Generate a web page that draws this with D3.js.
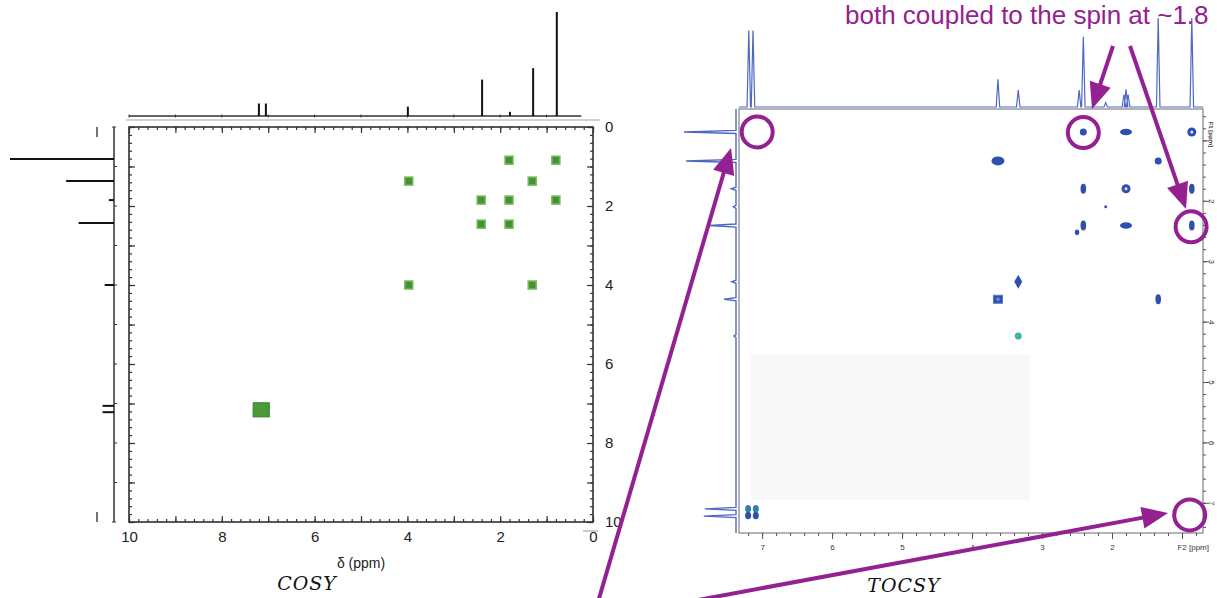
<!DOCTYPE html>
<html>
<head>
<meta charset="utf-8">
<script src="https://cdn.jsdelivr.net/npm/d3@7/dist/d3.min.js"></script>
<style>
  body { margin: 0; background: #fff; }
  svg { display: block; font-family: "Liberation Sans", Arial, sans-serif; }
</style>
</head>
<body>
<svg id="chart" width="1217" height="598"></svg>
<script>
// ---- COSY data ----
var cosyTopPpm = [7.20, 7.05, 3.99, 2.39, 1.79, 1.29, 0.78]
var cosyTopInt = [12, 12, 9, 35, 4, 46, 100]
var cosyLeftPpm = [7.22, 7.06, 4.00, 2.43, 1.85, 1.37, 0.81]
var cosyLeftInt = [11, 11, 9, 34, 5, 46, 100]
var cosyPeakX = [1.81, 0.80, 3.97, 1.31, 2.41, 1.81, 0.80, 2.41, 1.81, 3.97, 1.31]
var cosyPeakY = [0.84, 0.84, 1.37, 1.37, 1.85, 1.85, 1.85, 2.46, 2.46, 4.00, 4.00]
var cosyBigX = [7.15]
var cosyBigY = [7.16]
var cosyTickLabels = [10, 8, 6, 4, 2, 0]

// ---- TOCSY data ----
var tocsyTopPpm = [7.19, 7.13, 3.63, 3.34, 2.47, 2.41, 2.09, 1.83, 1.80, 1.77, 1.34, 0.86]
var tocsyTopInt = [86, 86, 31, 19, 19, 79, 5, 14, 20, 14, 100, 100]
var tocsyLeftPpm = [7.22, 7.10, 4.24, 3.63, 3.34, 2.41, 2.10, 1.80, 1.34, 0.86]
var tocsyLeftInt = [62, 60, 4, 23, 8, 52, 5, 9, 96, 100]
var tocsyF2 = [2.41, 1.80, 0.86, 3.63, 1.34, 2.41, 1.80, 0.86, 2.09, 2.41, 2.50, 1.80, 0.86, 3.34, 3.63, 1.34, 3.34, 7.20, 7.20, 7.09, 7.09]
var tocsyF1 = [0.86, 0.86, 0.86, 1.34, 1.34, 1.80, 1.80, 1.80, 2.10, 2.41, 2.52, 2.41, 2.41, 3.34, 3.63, 3.63, 4.24, 7.10, 7.21, 7.10, 7.21]
var tocsyKind = ["dot", "hbar", "ring", "oval", "dot", "vbar", "ring", "vbar", "tiny", "vbar", "small", "hbar", "vbar",
                 "diamond", "square", "vbar", "teal", "blob", "blob", "blob", "blob"]
var tocsyXLabels = [7, 6, 5, 4, 3, 2]
var tocsyYLabels = [2, 3, 4, 5, 6, 7]

// annotation circles (F2, F1 ppm)
var markF2 = [7.07, 2.41, 0.87, 0.89]
var markF1 = [0.86, 0.87, 2.43, 7.20]

var purple = "#942192"
var blue = "#3050b0"

var svg = d3.select("#chart")

// ================= COSY =================
var cx = d3.scaleLinear().domain([10, 0]).range([129, 593])
var cy = d3.scaleLinear().domain([0, 10]).range([127, 522])
var cInt = d3.scaleLinear().domain([0, 100]).range([0, 104])

var cosy = svg.append("g").attr("class", "cosy")

cosy.append("line")
  .attr("x1", 126).attr("x2", 600).attr("y1", 120).attr("y2", 120)
  .attr("stroke", "#c4c4c4").attr("stroke-width", 1.5)
cosy.append("line")
  .attr("x1", 583).attr("x2", 598).attr("y1", 531).attr("y2", 531)
  .attr("stroke", "#999")

// top projection
var topBase = 116
cosy.append("line")
  .attr("x1", cx(10)).attr("x2", cx(0.25)).attr("y1", topBase).attr("y2", topBase)
  .attr("stroke", "#333").attr("stroke-width", 1.5)
cosy.selectAll(".ttick").data(d3.range(10, 0, -1)).enter().append("line")
  .attr("x1", function (d) { return cx(d) }).attr("x2", function (d) { return cx(d) })
  .attr("y1", topBase - 1.5).attr("y2", topBase + 1.5)
  .attr("stroke", "#333")
cosy.selectAll(".tpeak").data(cosyTopPpm).enter().append("line")
  .attr("x1", function (d) { return cx(d) }).attr("x2", function (d) { return cx(d) })
  .attr("y1", topBase)
  .attr("y2", function (d, i) { return topBase - cInt(cosyTopInt[i]) })
  .attr("stroke", "#111").attr("stroke-width", 2)

// left projection
var leftBase = 114
cosy.append("line")
  .attr("x1", leftBase).attr("x2", leftBase).attr("y1", cy(0)).attr("y2", cy(10))
  .attr("stroke", "#333").attr("stroke-width", 1.5)
cosy.selectAll(".lcap").data([0, 10]).enter().append("line")
  .attr("x1", leftBase - 2).attr("x2", leftBase + 2)
  .attr("y1", function (d) { return cy(d) }).attr("y2", function (d) { return cy(d) })
  .attr("stroke", "#333")
cosy.selectAll(".ltick").data(d3.range(1, 10)).enter().append("line")
  .attr("x1", leftBase).attr("x2", leftBase + 3)
  .attr("y1", function (d) { return cy(d) }).attr("y2", function (d) { return cy(d) })
  .attr("stroke", "#333")
cosy.selectAll(".lpeak").data(cosyLeftPpm).enter().append("line")
  .attr("y1", function (d) { return cy(d) }).attr("y2", function (d) { return cy(d) })
  .attr("x1", leftBase)
  .attr("x2", function (d, i) { return leftBase - cInt(cosyLeftInt[i]) })
  .attr("stroke", "#111").attr("stroke-width", 2)
cosy.selectAll(".lend").data([cy(0), cy(10) - 10]).enter().append("line")
  .attr("x1", 97).attr("x2", 97)
  .attr("y1", function (d) { return d }).attr("y2", function (d) { return d + 10 })
  .attr("stroke", "#444").attr("stroke-width", 1.5)

// frame + axes
cosy.append("rect")
  .attr("x", cx(10)).attr("y", cy(0))
  .attr("width", cx(0) - cx(10)).attr("height", cy(10) - cy(0))
  .attr("fill", "#fff").attr("stroke", "#222").attr("stroke-width", 1.5)

var minorC = d3.range(0, 10.001, 0.2)
var majorC = d3.range(0, 11, 1)
function cosyAxis(axisFn, scale, size, values, labels) {
  return axisFn(scale).tickValues(values).tickSize(size)
    .tickFormat(labels ? function (d) { return labels.indexOf(d) >= 0 ? d : "" } : "")
}
var axes = [
  [d3.axisBottom, cx, "translate(0," + cy(10) + ")"],
  [d3.axisTop, cx, "translate(0," + cy(0) + ")"],
  [d3.axisLeft, cy, "translate(" + cx(10) + ",0)"],
  [d3.axisRight, cy, "translate(" + cx(0) + ",0)"]
]
axes.forEach(function (a, k) {
  var g1 = cosy.append("g").attr("transform", a[2])
    .call(cosyAxis(a[0], a[1], -3, minorC, null))
  var lab = (k === 0 || k === 3) ? cosyTickLabels : null
  var g2 = cosy.append("g").attr("transform", a[2])
    .call(cosyAxis(a[0], a[1], -6, majorC, lab).tickPadding(k === 3 ? 12 : 9))
  ;[g1, g2].forEach(function (g) {
    g.select(".domain").remove()
    g.selectAll("line").attr("stroke", "#333").attr("stroke-width", 1.2)
    g.selectAll("text").attr("font-size", 15).attr("fill", "#222")
      .attr("font-family", "Liberation Sans, Arial, sans-serif")
  })
  if (k === 3) g2.selectAll("text").attr("text-anchor", "start")
})

cosy.append("text")
  .attr("x", 361).attr("y", 568)
  .attr("text-anchor", "middle").attr("font-size", 14).attr("fill", "#222")
  .text("δ (ppm)")

// cross peaks
var sq = 8
cosy.selectAll(".cpk").data(cosyPeakX).enter().append("rect")
  .attr("x", function (d) { return cx(d) - sq / 2 })
  .attr("y", function (d, i) { return cy(cosyPeakY[i]) - sq / 2 })
  .attr("width", sq).attr("height", sq)
  .attr("fill", "#4a8f33").attr("stroke", "#6fbf5a").attr("stroke-width", 1.5)
cosy.selectAll(".cbig").data(cosyBigX).enter().append("rect")
  .attr("x", function (d) { return cx(d) - 8 })
  .attr("y", function (d, i) { return cy(cosyBigY[i]) - 7 })
  .attr("width", 16).attr("height", 14)
  .attr("fill", "#4a9a38").attr("stroke", "#3d8a2d").attr("stroke-width", 1.2)

cosy.append("text")
  .attr("x", 307).attr("y", 590)
  .attr("text-anchor", "middle").attr("font-size", 19)
  .attr("font-style", "italic").attr("font-family", "DejaVu Serif, serif")
  .attr("letter-spacing", 1).attr("fill", "#111")
  .text("COSY")

// ================= TOCSY =================
var tx = d3.scaleLinear().domain([7.33, 0.70]).range([739, 1203])
var ty = d3.scaleLinear().domain([0.48, 7.5]).range([109, 533])
var tTop = d3.scaleLinear().domain([0, 100]).range([107, 18])
var tLeft = d3.scaleLinear().domain([0, 100]).range([736, 684])

var tocsy = svg.append("g").attr("class", "tocsy")

// projections as narrow spikes on a baseline
var w = 0.025
function spikes(ppm, ints, lo, hi) {
  var order = d3.range(ppm.length).sort(function (a, b) { return ppm[b] - ppm[a] })
  var pts = [[hi, 0]]
  order.forEach(function (i) {
    pts.push([ppm[i] + w, 0], [ppm[i], ints[i]], [ppm[i] - w, 0])
  })
  pts.push([lo, 0])
  return pts
}
tocsy.append("path")
  .attr("d", d3.line().x(function (p) { return tx(p[0]) }).y(function (p) { return tTop(p[1]) })(spikes(tocsyTopPpm, tocsyTopInt, 0.70, 7.33)))
  .attr("fill", "none").attr("stroke", "#4f68c2").attr("stroke-width", 1.2)
tocsy.append("path")
  .attr("d", d3.line().y(function (p) { return ty(p[0]) }).x(function (p) { return tLeft(p[1]) })(spikes(tocsyLeftPpm, tocsyLeftInt, 0.48, 7.5)))
  .attr("fill", "none").attr("stroke", "#4f68c2").attr("stroke-width", 1.4)

// frame
tocsy.append("rect")
  .attr("x", tx(7.33)).attr("y", ty(0.48))
  .attr("width", tx(0.70) - tx(7.33)).attr("height", ty(7.5) - ty(0.48))
  .attr("fill", "#fff").attr("stroke", "#9a9a9a").attr("stroke-width", 1.5)
tocsy.append("rect")
  .attr("x", tx(7.16)).attr("y", ty(4.55))
  .attr("width", tx(3.17) - tx(7.16)).attr("height", ty(6.95) - ty(4.55))
  .attr("fill", "#f8f8f8")

var minorF2 = d3.range(0.8, 7.3, 0.2).map(function (d) { return +d.toFixed(1) })
var majorF2 = d3.range(1, 8, 1)
var minorF1 = d3.range(0.6, 7.5, 0.2).map(function (d) { return +d.toFixed(1) })
var majorF1 = d3.range(1, 8, 1)

function styleT(g) {
  g.select(".domain").remove()
  g.selectAll("line").attr("stroke", "#555")
  g.selectAll("text").attr("font-size", 8).attr("fill", "#333")
    .attr("font-family", "Liberation Sans, Arial, sans-serif")
}
var bx = tocsy.append("g").attr("transform", "translate(0," + ty(7.5) + ")")
bx.append("g").call(d3.axisBottom(tx).tickValues(minorF2).tickSize(3).tickFormat("")).call(styleT)
bx.append("g").call(d3.axisBottom(tx).tickValues(majorF2).tickSize(6)
  .tickFormat(function (d) { return tocsyXLabels.indexOf(d) >= 0 ? d : "" }).tickPadding(5)).call(styleT)
bx.append("text").attr("x", tx(0.84)).attr("y", 17)
  .attr("text-anchor", "middle").attr("font-size", 8).attr("fill", "#333").text("F2 [ppm]")

var ry = tocsy.append("g").attr("transform", "translate(" + tx(0.70) + ",0)")
ry.append("g").call(d3.axisRight(ty).tickValues(minorF1).tickSize(3).tickFormat("")).call(styleT)
var ryMaj = ry.append("g").call(d3.axisRight(ty).tickValues(majorF1).tickSize(6)
  .tickFormat(function (d) { return tocsyYLabels.indexOf(d) >= 0 ? d : "" }).tickPadding(4)).call(styleT)
ryMaj.selectAll("text").attr("transform", "translate(4,0) rotate(90)").attr("x", 0).attr("dy", "-0.2em")
  .attr("text-anchor", "middle")
ry.append("text").attr("transform", "translate(6," + ty(0.9) + ") rotate(90)")
  .attr("text-anchor", "middle").attr("font-size", 6).attr("font-weight", "bold").attr("fill", "#333")
  .text("F1 [ppm]")

// cross peaks
var pk = tocsy.append("g")
tocsyF2.forEach(function (f2, i) {
  var x = tx(f2), y = ty(tocsyF1[i]), k = tocsyKind[i]
  var shape = {
    dot: [3.5, 3.5], hbar: [6, 3.2], ring: [4.5, 4.5], oval: [6.5, 4.5], vbar: [2.8, 5],
    tiny: [1.5, 1.5], small: [2.2, 2.8], teal: [3.5, 3.5], blob: [3, 3.8]
  }
  if (k === "diamond") {
    pk.append("path").attr("d", d3.symbol(d3.symbolDiamond, 55)()).attr("transform", "translate(" + x + "," + y + ")")
      .attr("fill", blue)
  } else if (k === "square") {
    pk.append("rect").attr("x", x - 4.5).attr("y", y - 4).attr("width", 9).attr("height", 8)
      .attr("fill", blue).attr("stroke", "#5a74c8")
    pk.append("rect").attr("x", x - 1.5).attr("y", y - 1.5).attr("width", 3).attr("height", 3).attr("fill", "#7d92d6")
  } else {
    pk.append("ellipse").attr("cx", x).attr("cy", y)
      .attr("rx", shape[k][0]).attr("ry", shape[k][1])
      .attr("fill", k === "teal" ? "#3fb3a6" : (k === "blob" && i % 2 ? "#2f7fb0" : blue))
    if (k === "ring") {
      pk.append("circle").attr("cx", x).attr("cy", y).attr("r", 1.5).attr("fill", "#dfe5f5")
    }
  }
})

tocsy.append("text")
  .attr("x", 904).attr("y", 592)
  .attr("text-anchor", "middle").attr("font-size", 19)
  .attr("font-style", "italic").attr("font-family", "DejaVu Serif, serif")
  .attr("letter-spacing", 1).attr("fill", "#111")
  .text("TOCSY")

// ================= annotations =================
var ann = svg.append("g").attr("class", "annotations")
ann.selectAll(".mark").data(markF2).enter().append("circle")
  .attr("cx", function (d) { return tx(d) })
  .attr("cy", function (d, i) { return ty(markF1[i]) })
  .attr("r", 15.5)
  .attr("fill", "none").attr("stroke", purple).attr("stroke-width", 4)

function arrow(x1, y1, x2, y2) {
  var ang = Math.atan2(y2 - y1, x2 - x1), L = 26, H = 11
  var bx = x2 - L * Math.cos(ang), by = y2 - L * Math.sin(ang)
  ann.append("line")
    .attr("x1", x1).attr("y1", y1).attr("x2", bx + 2 * Math.cos(ang)).attr("y2", by + 2 * Math.sin(ang))
    .attr("stroke", purple).attr("stroke-width", 4)
  ann.append("path")
    .attr("d", "M" + x2 + "," + y2 +
      "L" + (bx - H * Math.sin(ang)) + "," + (by + H * Math.cos(ang)) +
      "L" + (bx + H * Math.sin(ang)) + "," + (by - H * Math.cos(ang)) + "Z")
    .attr("fill", purple)
}
arrow(1113, 46, 1092, 109)
arrow(1130, 46, 1186, 209)
arrow(598, 602, 731, 148)
arrow(698, 600, 1168, 513)

ann.append("text")
  .attr("x", 845).attr("y", 24)
  .attr("font-size", 26).attr("fill", purple)
  .text("both coupled to the spin at ~1.8")
</script>
</body>
</html>
